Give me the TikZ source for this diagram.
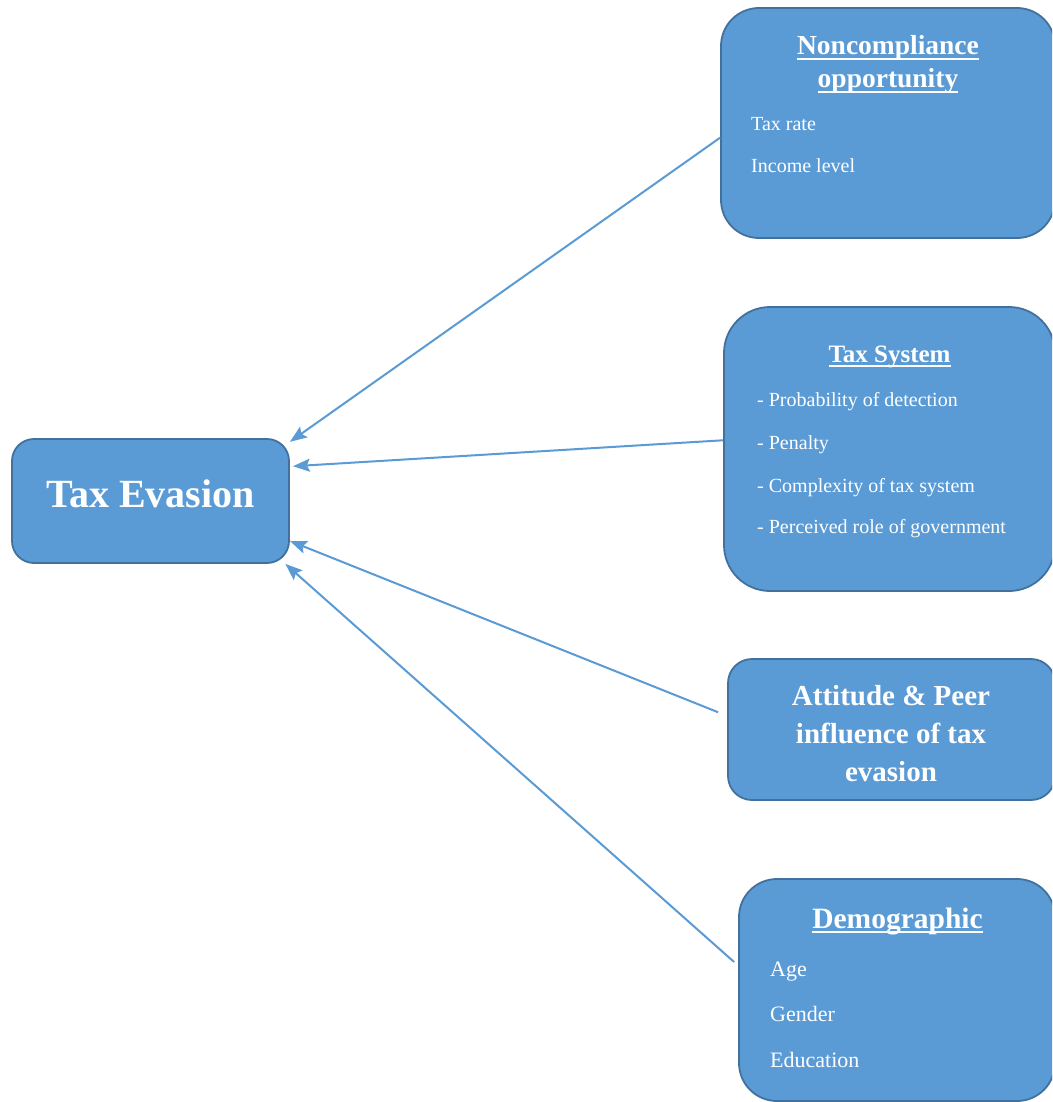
\documentclass[tikz,border=0pt]{standalone}
\usepackage{fontspec}
\setmainfont{Liberation Serif}
\usetikzlibrary{arrows.meta}

\definecolor{boxfill}{HTML}{5B9BD5}
\definecolor{boxline}{HTML}{41719C}
\newcommand{\ulhead}[1]{\setbox0\hbox{#1}\rlap{\rule[-5pt]{\wd0}{2pt}}\box0}

\begin{document}
\begin{tikzpicture}[
    x=1pt, y=-1pt,
    box/.style n args={3}{draw=boxline,line width=1.8pt,fill=boxfill,
        minimum width=#1,minimum height=#2,rounded corners=#3,inner sep=0pt},
    head/.style={anchor=base,inner sep=0pt,text=white,font=\bfseries\fontsize{#1}{#1}\selectfont},
    item/.style={anchor=base west,inner sep=0pt,text=white,font=\fontsize{#1}{#1}\selectfont},
    link/.style={draw=boxfill,line width=2pt,-{Stealth[length=17pt,width=13pt,inset=3pt]}}
    ]
    \clip (0,0) rectangle (1052,1102);
    \fill[white] (0,0) rectangle (1052,1102);
    % boxes
    \node [box={277pt}{124pt}{22pt}] (evasion) at (150.5,501) {};
    \node [box={334pt}{230pt}{38pt}] (noncomp) at (888,123) {};
    \node [box={331pt}{284pt}{46pt}] (taxsys) at (889.5,449) {};
    \node [box={327pt}{141pt}{24pt}] (attitude) at (891.5,729.5) {};
    \node [box={316pt}{222pt}{38pt}] (demog) at (897,990) {};
    % tax evasion
    \node [head=40] (evasiontext) at (150.5,507) {Tax Evasion};
    % noncompliance opportunity
    \node [head=27.5] (nchead1) at (888,55) {\ulhead{Noncompliance}};
    \node [head=27.5] (nchead2) at (888,88) {\ulhead{opportunity}};
    \node [item=20] (ncitem1) at (751,131) {Tax rate};
    \node [item=20] (ncitem2) at (751,173) {Income level};
    % tax system
    \node [head=25] (tshead) at (889.5,362) {\ulhead{Tax System}};
    \foreach \y/\t [count=\i] in {406/Probability of detection,449/Penalty,
        492/Complexity of tax system,533/Perceived role of government} {
        \node [item=20] (tsitem\i) at (757,\y) {- \t};
    }
    % attitude
    \foreach \y/\t [count=\i] in {705/Attitude \& Peer,743/influence of tax,781/evasion} {
        \node [head=29] (athead\i) at (891,\y) {\t};
    }
    % demographic
    \node [head=29.5] (dmhead) at (897.5,928) {\ulhead{Demographic}};
    \foreach \y/\t [count=\i] in {976/Age,1021/Gender,1067/Education} {
        \node [item=22] (dmitem\i) at (770,\y) {\t};
    }
    % arrows
    \draw [link] (noncomp.185) -- (evasion.23);
    \draw [link] (taxsys.177) -- ([xshift=3pt]evasion.14);
    \draw [link] ([xshift=-9pt]attitude.174) -- (evasion.-16);
    \draw [link] ([xshift=-4pt]demog.170) -- (evasion.-25);
\end{tikzpicture}
\end{document}
